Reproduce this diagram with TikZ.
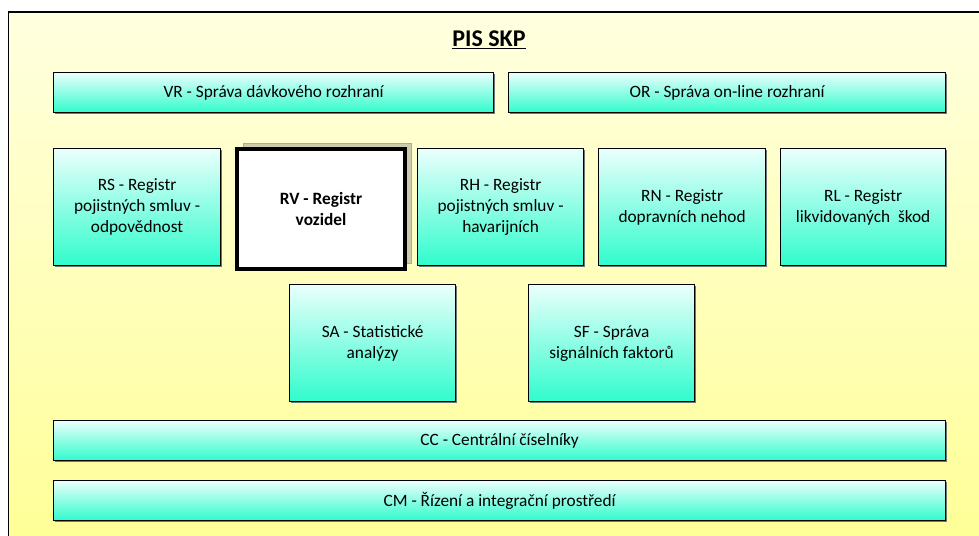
\documentclass[tikz,border=0pt]{standalone}
\usepackage{fontspec}
\setmainfont{Carlito}
\usetikzlibrary{shadows}
\definecolor{boxtop}{RGB}{234,255,252}
\definecolor{boxbot}{RGB}{48,252,204}
\definecolor{bgtop}{RGB}{255,255,224}
\definecolor{bgbot}{RGB}{255,255,150}
\definecolor{shadowc}{RGB}{204,204,172}
\begin{document}
\begin{tikzpicture}[x=1pt,y=-1pt,
  box/.style={draw=black, line width=1.2pt, top color=boxtop, bottom color=boxbot,
    align=center, font=\fontsize{17.3}{21}\selectfont, inner sep=0pt, anchor=north west,
    drop shadow={shadow xshift=1.2pt, shadow yshift=-1.2pt, fill=black!55, opacity=1}},
  selbox/.style={draw=black, line width=4pt, fill=white,
    align=center, font=\fontsize{17.3}{21}\selectfont\bfseries, inner sep=0pt, anchor=north west,
    general shadow={shadow xshift=6pt, shadow yshift=6pt, fill=shadowc, draw=shadowc!85!black, line width=1pt}},
  title/.style={font=\fontsize{24}{26}\selectfont\bfseries}]
\useasboundingbox (0,0) rectangle (979,535);
\fill[white] (0,0) rectangle (979,535);
\shade[top color=bgtop, bottom color=bgbot] (8.5,12) rectangle (990,545);
\draw[line width=1.5pt] (8.5,545) -- (8.5,12) -- (990,12);
\node[title] (t) at (489,40) {\underline{PIS SKP}};
\node[box, minimum width=440pt, minimum height=40pt] (vr) at (53,72) {VR - Správa dávkového rozhraní};
\node[box, minimum width=437pt, minimum height=40pt] (or) at (508,72) {OR - Správa on-line rozhraní};
\node[box, minimum width=167pt, minimum height=117pt] (rs) at (53,148) {RS - Registr\\pojistných smluv -\\odpovědnost};
\node[selbox, minimum width=168pt, minimum height=120pt] (rv) at (235,147) {RV - Registr\\vozidel};
\node[box, minimum width=166pt, minimum height=117pt] (rh) at (417,148) {RH - Registr\\pojistných smluv -\\havarijních};
\node[box, minimum width=167pt, minimum height=117pt] (rn) at (598,148) {RN - Registr\\dopravních nehod};
\node[box, minimum width=165pt, minimum height=117pt] (rl) at (780,148) {RL - Registr\\likvidovaných\ \ škod};
\node[box, minimum width=166pt, minimum height=117pt] (sa) at (289,284) {SA - Statistické\\analýzy};
\node[box, minimum width=166pt, minimum height=117pt] (sf) at (528,284) {SF - Správa\\signálních faktorů};
\node[box, minimum width=892pt, minimum height=40pt] (cc) at (53,420) {CC - Centrální číselníky};
\node[box, minimum width=892pt, minimum height=40pt] (cm) at (53,480) {CM - Řízení a integrační prostředí};
\end{tikzpicture}
\end{document}
